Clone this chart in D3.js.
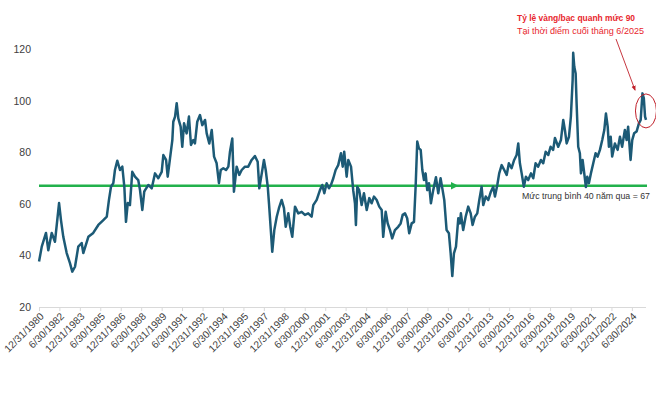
<!DOCTYPE html>
<html>
<head>
<meta charset="utf-8">
<title>Gold / silver ratio</title>
<script src="https://d3js.org/d3.v7.min.js"></script>
<style>
    body { margin: 0; background: #fff; }
    svg text { font-family: "Liberation Sans", Arial, sans-serif; }
</style>
</head>
<body>
<svg width="656" height="396"></svg>
<script>
    // decimal year of each reading
    var years = [
        1981.00, 1981.20, 1981.51, 1981.68, 1981.93, 1982.17, 1982.47, 1982.61, 1982.78, 1983.03,
        1983.27, 1983.44, 1983.64, 1983.88, 1984.13, 1984.25, 1984.62, 1984.98, 1985.35, 1985.72,
        1985.97, 1986.13, 1986.28, 1986.45, 1986.57, 1986.74, 1986.94, 1987.11, 1987.26, 1987.38,
        1987.51, 1987.67, 1987.84, 1988.04, 1988.28, 1988.41, 1988.58, 1988.72, 1988.78, 1989.02,
        1989.27, 1989.51, 1989.75, 1990.00, 1990.12, 1990.32, 1990.44, 1990.61, 1990.78, 1990.85,
        1990.98, 1991.10, 1991.22, 1991.39, 1991.51, 1991.64, 1991.83, 1992.00, 1992.15, 1992.32,
        1992.44, 1992.61, 1992.81, 1992.98, 1993.18, 1993.30, 1993.49, 1993.67, 1993.84, 1994.03,
        1994.20, 1994.33, 1994.52, 1994.72, 1994.89, 1995.01, 1995.18, 1995.30, 1995.50, 1995.69,
        1995.87, 1996.11, 1996.35, 1996.60, 1996.84, 1997.04, 1997.16, 1997.34, 1997.50, 1997.63,
        1997.78, 1997.87, 1998.02, 1998.11, 1998.26, 1998.44, 1998.60, 1998.80, 1998.97, 1999.10,
        1999.29, 1999.43, 1999.58, 1999.78, 2000.02, 2000.27, 2000.51, 2000.75, 2001.00, 2001.12,
        2001.37, 2001.61, 2001.78, 2001.93, 2002.10, 2002.27, 2002.42, 2002.59, 2002.76, 2002.95,
        2003.15, 2003.28, 2003.39, 2003.57, 2003.69, 2003.89, 2004.05, 2004.18, 2004.25, 2004.35,
        2004.49, 2004.67, 2004.84, 2005.04, 2005.23, 2005.40, 2005.57, 2005.77, 2005.96, 2006.14,
        2006.25, 2006.43, 2006.58, 2006.75, 2006.91, 2007.11, 2007.35, 2007.53, 2007.68, 2007.85,
        2008.01, 2008.16, 2008.34, 2008.51, 2008.63, 2008.75, 2008.87, 2009.00, 2009.12, 2009.24,
        2009.36, 2009.48, 2009.61, 2009.75, 2009.92, 2010.12, 2010.29, 2010.46, 2010.61, 2010.73,
        2010.90, 2011.07, 2011.20, 2011.32, 2011.44, 2011.59, 2011.76, 2011.88, 2011.95, 2012.12,
        2012.30, 2012.49, 2012.67, 2012.81, 2012.98, 2013.15, 2013.30, 2013.47, 2013.59, 2013.77,
        2013.96, 2014.15, 2014.32, 2014.45, 2014.62, 2014.76, 2014.94, 2015.13, 2015.31, 2015.47,
        2015.67, 2015.86, 2016.04, 2016.16, 2016.28, 2016.41, 2016.57, 2016.72, 2016.89, 2017.09,
        2017.26, 2017.43, 2017.62, 2017.82, 2017.99, 2018.17, 2018.36, 2018.53, 2018.72, 2018.85,
        2019.09, 2019.29, 2019.46, 2019.58, 2019.71, 2019.88, 2020.02, 2020.15, 2020.19, 2020.27,
        2020.37, 2020.44, 2020.56, 2020.68, 2020.76, 2020.88, 2021.00, 2021.12, 2021.22, 2021.34,
        2021.49, 2021.66, 2021.83, 2021.98, 2022.15, 2022.32, 2022.47, 2022.59, 2022.72, 2022.81,
        2022.94, 2023.05, 2023.25, 2023.45, 2023.62, 2023.78, 2023.98, 2024.11, 2024.22, 2024.40,
        2024.52, 2024.66, 2024.84, 2025.01, 2025.14, 2025.27, 2025.37, 2025.46, 2025.53
    ];

    // gold / silver ratio at each reading
    var ratio = [
        37.6, 43.4, 48.7, 42.0, 48.7, 45.3, 60.3, 53.7, 47.2, 40.9,
        37.0, 33.7, 35.6, 43.4, 44.8, 40.9, 47.2, 48.7, 51.8, 53.7,
        55.0, 61.5, 66.6, 68.0, 73.1, 76.7, 73.1, 74.4, 66.6, 53.0,
        60.3, 59.5, 72.4, 70.5, 69.2, 65.3, 57.6, 64.7, 65.3, 67.3,
        66.0, 71.8, 69.9, 72.4, 78.9, 77.0, 70.5, 77.6, 84.7, 91.8,
        93.8, 99.0, 93.1, 89.9, 82.1, 91.2, 87.3, 93.8, 82.8, 84.7,
        83.4, 91.8, 94.4, 90.5, 92.5, 87.3, 83.4, 88.6, 78.3, 75.7,
        68.0, 73.1, 73.8, 73.1, 74.4, 80.2, 85.3, 64.7, 74.4, 71.2,
        73.1, 74.4, 74.4, 77.0, 78.5, 76.3, 66.0, 71.8, 77.0, 73.1,
        66.6, 60.2, 48.6, 41.4, 49.8, 55.0, 58.3, 61.5, 58.3, 51.1,
        56.3, 51.1, 47.2, 58.9, 56.3, 56.9, 55.7, 56.3, 55.0, 59.5,
        61.5, 65.3, 67.3, 64.1, 68.0, 66.0, 67.3, 69.9, 73.1, 75.0,
        79.6, 74.4, 80.2, 70.5, 77.0, 74.4, 65.3, 60.2, 51.8, 66.6,
        65.3, 59.5, 64.1, 57.6, 62.2, 60.2, 62.8, 61.5, 58.9, 57.6,
        47.2, 56.9, 52.4, 49.8, 46.6, 49.8, 51.1, 52.4, 55.7, 56.3,
        54.4, 48.6, 52.4, 53.0, 66.6, 84.1, 81.5, 80.9, 73.1, 69.2,
        71.8, 65.3, 68.0, 60.2, 65.3, 70.3, 64.1, 69.9, 65.3, 61.5,
        49.8, 48.6, 40.8, 32.0, 40.8, 43.4, 54.4, 52.4, 56.3, 49.8,
        55.0, 58.9, 56.3, 51.8, 55.0, 56.3, 61.5, 66.6, 59.5, 62.8,
        61.5, 64.7, 66.6, 62.8, 67.3, 71.8, 75.0, 73.1, 71.2, 75.7,
        73.8, 77.0, 78.9, 83.4, 75.7, 71.8, 66.6, 70.5, 69.2, 71.8,
        69.9, 75.7, 74.4, 77.0, 75.7, 80.2, 78.9, 82.1, 80.9, 85.5,
        82.1, 84.7, 92.5, 88.6, 83.4, 86.0, 93.8, 108.0, 118.5, 113.1,
        110.5, 99.0, 82.1, 79.6, 71.8, 77.0, 71.8, 66.5, 70.5, 68.0,
        71.8, 75.7, 79.6, 78.3, 80.9, 84.7, 88.6, 95.0, 89.9, 82.1,
        86.0, 78.3, 83.4, 80.9, 86.0, 82.1, 88.6, 84.7, 89.9, 77.0,
        84.7, 87.3, 88.0, 91.2, 92.5, 102.8, 100.9, 93.8, 92.5
    ];

    var tickLabels = [
        "12/31/1980", "6/30/1982", "12/31/1983", "6/30/1985", "12/31/1986", "6/30/1988",
        "12/31/1989", "6/30/1991", "12/31/1992", "6/30/1994", "12/31/1995", "6/30/1997",
        "12/31/1998", "6/30/2000", "12/31/2001", "6/30/2003", "12/31/2004", "6/30/2006",
        "12/31/2007", "6/30/2009", "12/31/2010", "6/30/2012", "12/31/2013", "6/30/2015",
        "12/31/2016", "6/30/2018", "12/31/2019", "6/30/2021", "12/31/2022", "6/30/2024"
    ];
    var yTicks = [20, 40, 60, 80, 100, 120];
    var average = 67;
    var averageLabel = "Mức trung bình 40 năm qua = 67";
    var noteTitle = "Tỷ lệ vàng/bạc quanh mức 90";
    var noteSub = "Tại thời điểm cuối tháng 6/2025";

    var svg = d3.select("svg");
    var defs = svg.append("defs");
    var parseDate = d3.timeParse("%m/%d/%Y");

    function yearToDate(y) {
        var yr = Math.floor(y);
        var start = new Date(yr, 0, 1);
        return new Date(start.getTime() + (y - yr) * 365.25 * 864e5);
    }

    var points = years.map(function(y, i) { return { date: yearToDate(y), value: ratio[i] }; });

    var x = d3.scaleTime()
        .domain([parseDate("12/31/1980"), parseDate("6/30/2025")])
        .range([39, 645.5]);
    var y = d3.scaleLinear().domain([20, 120]).range([307, 49]);

    // y labels
    svg.append("g")
        .selectAll("text")
        .data(yTicks)
        .enter().append("text")
        .attr("x", 31)
        .attr("y", function(d) { return y(d) + 4; })
        .attr("text-anchor", "end")
        .attr("font-size", "10.5px")
        .attr("fill", "#404040")
        .text(function(d) { return d; });

    // x axis
    var xAxis = d3.axisBottom(x)
        .tickValues(tickLabels.map(parseDate))
        .tickFormat(d3.timeFormat("%-m/%-d/%Y"))
        .tickSize(4)
        .tickSizeOuter(0);

    var gx = svg.append("g")
        .attr("transform", "translate(0,307)")
        .call(xAxis);
    gx.select(".domain").attr("stroke", "#d9d9d9").attr("d", "M39,0.5H646");
    gx.selectAll(".tick line").attr("stroke", "#d9d9d9");
    gx.selectAll(".tick text")
        .attr("font-size", "10.2px")
        .attr("font-family", "Liberation Sans, Arial, sans-serif")
        .attr("fill", "#404040")
        .attr("text-anchor", "end")
        .attr("dy", null)
        .attr("y", 0)
        .attr("transform", "translate(5,10) rotate(-45)");

    // average line, arrowhead half way
    defs.append("marker")
        .attr("id", "greenHead")
        .attr("viewBox", "0 0 10 10")
        .attr("refX", 5).attr("refY", 5)
        .attr("markerWidth", 3.2).attr("markerHeight", 3.2)
        .attr("orient", "auto")
        .append("path").attr("d", "M0,0L10,5L0,10z").attr("fill", "#22b14c");

    var mid = x(parseDate("6/30/2011"));
    svg.append("path")
        .attr("d", "M39," + y(average) + "H" + mid)
        .attr("stroke", "#22b14c")
        .attr("stroke-width", 2.4)
        .attr("marker-end", "url(#greenHead)");
    svg.append("line")
        .attr("x1", mid).attr("x2", 647)
        .attr("y1", y(average)).attr("y2", y(average))
        .attr("stroke", "#22b14c")
        .attr("stroke-width", 2.4);

    // ratio line
    var line = d3.line()
        .x(function(d) { return x(d.date); })
        .y(function(d) { return y(d.value); });

    svg.append("path")
        .datum(points)
        .attr("d", line)
        .attr("fill", "none")
        .attr("stroke", "#1c5a76")
        .attr("stroke-width", 2.5)
        .attr("stroke-linejoin", "round");

    svg.append("text")
        .attr("x", 522).attr("y", 198.5)
        .attr("font-size", "8.9px")
        .attr("fill", "#333")
        .attr("textLength", 128)
        .attr("lengthAdjust", "spacingAndGlyphs")
        .text(averageLabel);

    // annotation
    svg.append("text")
        .attr("x", 517).attr("y", 21)
        .attr("font-size", "9.8px")
        .attr("font-weight", "bold")
        .attr("fill", "#e8262d")
        .attr("textLength", 118)
        .attr("lengthAdjust", "spacingAndGlyphs")
        .text(noteTitle);
    svg.append("text")
        .attr("x", 517).attr("y", 33.5)
        .attr("font-size", "9.4px")
        .attr("fill", "#e8262d")
        .attr("textLength", 127)
        .attr("lengthAdjust", "spacingAndGlyphs")
        .text(noteSub);

    defs.append("marker")
        .attr("id", "redHead")
        .attr("viewBox", "0 0 10 10")
        .attr("refX", 8).attr("refY", 5)
        .attr("markerWidth", 6).attr("markerHeight", 6)
        .attr("orient", "auto")
        .append("path").attr("d", "M0,1L10,5L0,9z").attr("fill", "#c0202a");

    svg.append("line")
        .attr("x1", 616).attr("y1", 39)
        .attr("x2", 635).attr("y2", 90)
        .attr("stroke", "#c0202a")
        .attr("stroke-width", 0.9)
        .attr("marker-end", "url(#redHead)");

    var lastPeak = points[points.length - 4];
    svg.append("ellipse")
        .attr("cx", x(lastPeak.date) + 3.5)
        .attr("cy", y(96))
        .attr("rx", 10.5).attr("ry", 17)
        .attr("fill", "none")
        .attr("stroke", "#c0202a")
        .attr("stroke-width", 1);
</script>
</body>
</html>
